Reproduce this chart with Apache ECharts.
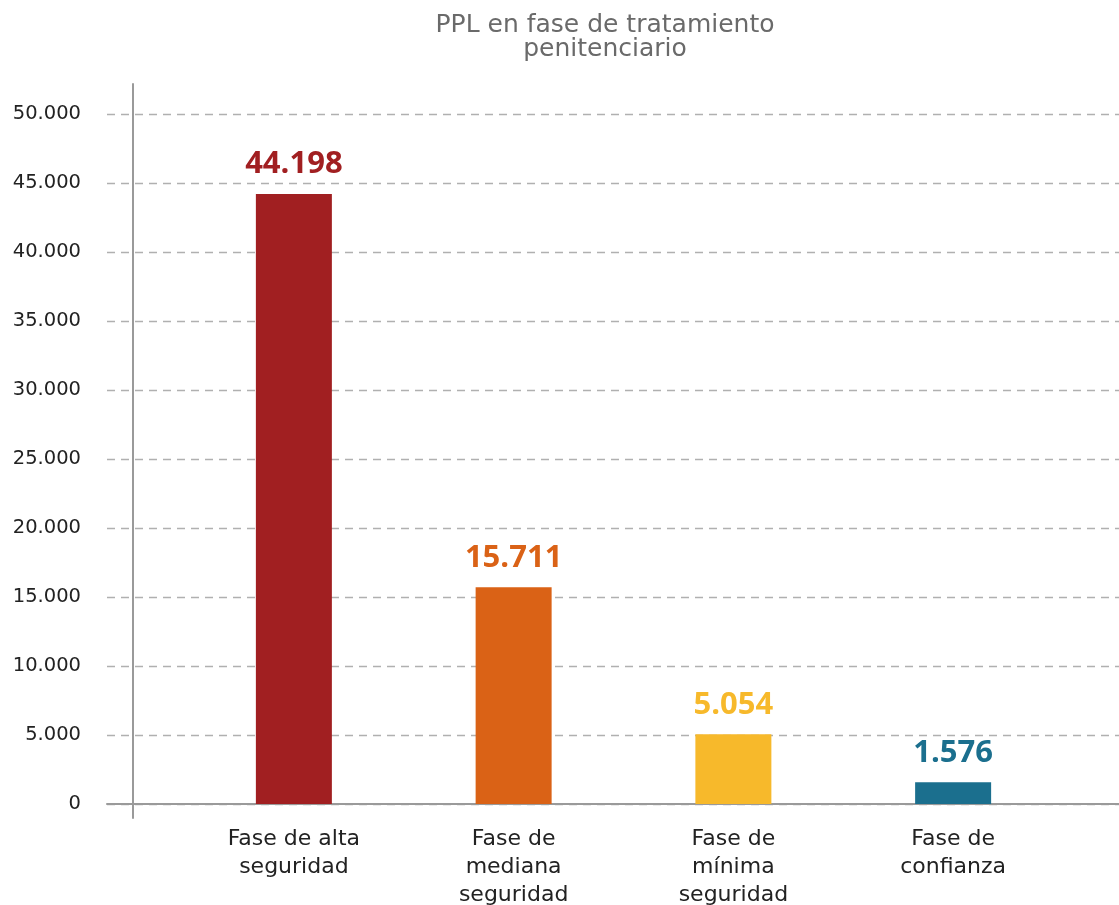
<!DOCTYPE html>
<html>
<head>
<meta charset="utf-8">
<script src="https://cdn.jsdelivr.net/npm/echarts@6/dist/echarts.min.js"></script>
<style>
  html, body { margin: 0; padding: 0; background: #fff; }
  #chart { width: 1119px; height: 905px; }
</style>
</head>
<body>
<div id="chart"></div>
<script>
const categories = ['Fase de alta\nseguridad', 'Fase de\nmediana\nseguridad', 'Fase de\nmínima\nseguridad', 'Fase de\nconfianza']
const values = [44198, 15711, 5054, 1576]
const barColors = ['#A11F21', '#DA6216', '#F7B92B', '#1B6F8E']
const yMax = 50000
const yStep = 5000

const fmt = v => String(v).replace(/\B(?=(\d{3})+(?!\d))/g, '.')
const font = '"DejaVu Sans", sans-serif'
const boldFont = '"Open Sans", "Noto Sans", sans-serif'

const chart = echarts.init(document.getElementById('chart'))
chart.setOption({
  animation: false,
  title: {
    text: 'PPL en fase de tratamiento\npenitenciario',
    left: 600, top: 8, textAlign: 'center',
    textStyle: { fontFamily: font, fontSize: 25, fontWeight: 'normal', color: '#6a6a6a', lineHeight: 24 }
  },
  // three grids: gridlines across the full width, the y axis line, and the bars
  grid: [
    { left: 107, right: 0, top: 114, bottom: 101, outerBoundsMode: 'none' },
    { left: 133, right: 0, top: 84, bottom: 87, outerBoundsMode: 'none' },
    { left: 184, right: 56, top: 114, bottom: 101, outerBoundsMode: 'none' }
  ],
  xAxis: [
    { gridIndex: 0, type: 'value', min: 0, max: 1, axisLabel: { show: false }, axisTick: { show: false }, splitLine: { show: false },
      axisLine: { show: true, lineStyle: { color: '#9a9a9a', width: 2 } } },
    { gridIndex: 1, type: 'value', show: false },
    { gridIndex: 2, type: 'category', data: categories, axisLine: { show: false }, axisTick: { show: false },
      axisLabel: { margin: 21, fontFamily: font, fontSize: 22, color: '#222', lineHeight: 28 } }
  ],
  yAxis: [
    { gridIndex: 0, type: 'value', min: 0, max: yMax, interval: yStep, axisLine: { show: false }, axisTick: { show: false },
      axisLabel: { margin: 26, fontFamily: font, fontSize: 19.5, color: '#222', formatter: fmt },
      splitLine: { show: true, lineStyle: { color: '#b0b0b0', type: [8, 6], width: 1.3 } } },
    { gridIndex: 1, type: 'value', axisLabel: { show: false }, axisTick: { show: false }, splitLine: { show: false },
      axisLine: { show: true, lineStyle: { color: '#9a9a9a', width: 2 } } },
    { gridIndex: 2, type: 'value', min: 0, max: yMax, show: false }
  ],
  series: [{
    type: 'bar',
    xAxisIndex: 2, yAxisIndex: 2,
    barWidth: 76,
    data: values.map((v, i) => ({ value: v, itemStyle: { color: barColors[i] }, label: { color: barColors[i] } })),
    label: { show: true, position: 'top', distance: 14, fontFamily: boldFont, fontSize: 31, fontWeight: 'bold', formatter: p => fmt(p.value) }
  }]
})
</script>
</body>
</html>
